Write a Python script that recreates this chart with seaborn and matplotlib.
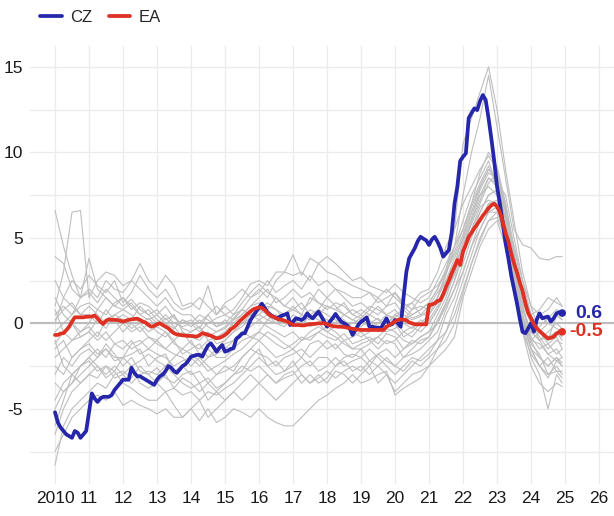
import numpy as np
import pandas as pd
import matplotlib
matplotlib.use('Agg')
import matplotlib.pyplot as plt
import seaborn as sns
from matplotlib.lines import Line2D

# =========================================
# Data (monthly, Jan 2010 - Dec 2024)
# =========================================
cz = [
    -5.2, -5.8, -6.1, -6.3, -6.5, -6.6, -6.7, -6.3, -6.4, -6.7, -6.5, -6.3,
    -5.2, -4.1, -4.4, -4.6, -4.4, -4.3, -4.3, -4.3, -4.2, -3.9, -3.7, -3.5,
    -3.3, -3.3, -3.3, -2.6, -2.9, -3.1, -3.1, -3.2, -3.3, -3.4, -3.5, -3.6,
    -3.3, -3.1, -3.0, -2.8, -2.5, -2.6, -2.8, -2.9, -2.7, -2.5, -2.4, -2.2,
    -1.95, -1.9, -1.85, -1.85, -1.95, -1.6, -1.3, -1.17, -1.4, -1.66, -1.45, -1.27,
    -1.66, -1.6, -1.5, -1.46, -0.9, -0.78, -0.6, -0.58, -0.2, 0.19, 0.45, 0.68,
    0.9, 1.15, 0.9, 0.65, 0.5, 0.4, 0.3, 0.35, 0.45, 0.5, 0.58, -0.1,
    0.1, 0.29, 0.25, 0.19, 0.3, 0.58, 0.4, 0.29, 0.5, 0.68, 0.4, 0.1,
    -0.2, 0.1, 0.3, 0.55, 0.3, 0.1, 0.0, -0.1, -0.3, -0.68, -0.4, -0.1,
    0.1, 0.2, 0.35, -0.2, -0.2, -0.25, -0.25, -0.29, 0.0, 0.29, -0.1, -0.05,
    0.19, 0.0, -0.2, 1.5, 3.0, 3.8, 4.1, 4.4, 4.8, 5.06, 4.95, 4.85,
    4.58, 4.9, 5.06, 4.77, 4.4, 3.9, 4.1, 4.29, 5.3, 7.0, 8.0, 9.5,
    9.74, 9.94, 12.0, 12.3, 12.57, 12.47, 13.0, 13.35, 13.06, 12.0, 10.8, 9.5,
    8.0, 7.0, 5.9, 4.7, 3.8, 2.8, 2.0, 1.2, 0.3, -0.5, -0.58, -0.3,
    0.0, -0.49, 0.2, 0.58, 0.29, 0.35, 0.39, 0.1, 0.3, 0.58, 0.65, 0.6,
]

ea = [
    -0.68, -0.68, -0.6, -0.58, -0.4, -0.2, 0.1, 0.35, 0.35, 0.35, 0.35, 0.38,
    0.39, 0.4, 0.45, 0.29, 0.1, -0.04, 0.15, 0.23, 0.2, 0.2, 0.19, 0.15,
    0.1, 0.15, 0.2, 0.23, 0.25, 0.27, 0.2, 0.1, 0.04, -0.1, -0.2, -0.15,
    -0.05, 0.0, -0.1, -0.2, -0.29, -0.45, -0.58, -0.65, -0.68, -0.7, -0.72, -0.74,
    -0.74, -0.76, -0.78, -0.7, -0.58, -0.62, -0.68, -0.72, -0.8, -0.88, -0.85, -0.78,
    -0.68, -0.55, -0.35, -0.25, -0.1, 0.1, 0.25, 0.4, 0.55, 0.7, 0.82, 0.88,
    0.93, 0.9, 0.78, 0.6, 0.45, 0.39, 0.3, 0.23, 0.2, 0.15, 0.1, 0.0,
    -0.1, -0.1, -0.1, -0.12, -0.12, -0.08, -0.05, -0.04, -0.03, 0.0, 0.0, 0.0,
    -0.05, -0.12, -0.16, -0.18, -0.2, -0.2, -0.22, -0.25, -0.29, -0.32, -0.35, -0.37,
    -0.39, -0.39, -0.39, -0.39, -0.39, -0.39, -0.39, -0.39, -0.39, -0.2, -0.1, 0.0,
    0.1, 0.2, 0.23, 0.2, 0.19, 0.05, 0.0, -0.06, -0.06, -0.06, -0.06, -0.06,
    1.07, 1.1, 1.17, 1.3, 1.36, 1.7, 2.14, 2.5, 2.92, 3.3, 3.7, 3.41,
    4.19, 4.6, 5.06, 5.3, 5.56, 5.8, 6.04, 6.3, 6.5, 6.73, 6.9, 7.0,
    6.82, 6.5, 5.94, 5.3, 4.8, 4.09, 3.5, 3.0, 2.4, 1.9, 1.17, 0.6,
    0.29, -0.05, -0.29, -0.45, -0.6, -0.75, -0.88, -0.85, -0.78, -0.6, -0.5, -0.5,
]

# other countries, quarterly (+ last month)
grey_months = list(range(0, 180, 3)) + [179]

grey_a = [-8.3, -6.0, -5.0, -4.5, -4.0, -3.5, -3.8, -3.0, -2.8, -3.2, -2.5, -3.0,
          -3.5, -3.0, -3.8, -3.2, -3.5, -4.0, -3.5, -3.0, -2.5, -2.8, -2.0, -1.5,
          -1.0, -1.5, -2.0, -1.8, -1.5, -2.0, -1.2, -1.0, -1.5, -1.2, -1.8, -2.0,
          -1.5, -2.2, -1.8, -1.5, -2.0, -1.5, -1.0, -1.2, -0.8, 0.0, 1.0, 2.0,
          3.5, 5.0, 6.5, 7.5, 7.8, 6.0, 3.0, 0.5, -1.5, -2.0, -2.5, -2.0, -2.3]
grey_b = [-7.5, -6.5, -5.5, -5.0, -4.5, -4.2, -4.5, -4.0, -4.8, -4.5, -4.8, -5.0,
          -5.3, -5.0, -5.5, -5.5, -5.0, -5.7, -5.0, -5.8, -5.5, -5.0, -5.2, -5.5,
          -5.0, -5.5, -5.8, -6.0, -6.0, -5.5, -5.0, -4.5, -4.2, -3.8, -3.5, -3.0,
          -3.5, -3.3, -3.0, -2.8, -4.2, -3.8, -3.5, -3.2, -2.5, -2.0, -1.5, -0.8,
          1.5, 3.0, 4.5, 5.5, 6.0, 4.5, 2.0, -0.5, -2.5, -3.5, -4.0, -3.5, -3.7]
grey_c = [-6.5, -5.0, -4.0, -3.5, -3.0, -3.2, -2.5, -2.8, -2.0, -2.5, -2.2, -1.8,
          -2.2, -2.5, -2.0, -1.5, -1.8, -2.2, -2.8, -2.5, -2.2, -1.8, -1.5, -1.0,
          -0.5, -0.8, -1.2, -1.5, -1.2, -0.8, -1.0, -0.5, -0.8, -1.0, -0.6, -1.2,
          -1.0, -0.8, -1.2, -0.6, -0.8, -1.5, -1.2, -0.8, -0.5, 0.5, 1.5, 3.0,
          4.5, 6.0, 7.5, 8.5, 8.0, 6.5, 3.5, 1.0, -0.8, -1.5, -1.2, -1.8, -1.5]
grey_d = [-3.0, -2.0, -2.5, -1.8, -1.5, -2.0, -1.2, -1.8, -2.5, -2.0, -2.8, -3.0,
          -2.6, -3.2, -3.5, -3.0, -2.8, -3.5, -3.2, -3.8, -3.5, -3.0, -2.5, -2.8,
          -2.5, -3.0, -3.5, -3.2, -3.0, -2.5, -2.2, -2.8, -2.5, -2.0, -2.5, -2.2,
          -2.0, -2.5, -1.8, -2.2, -2.5, -2.0, -1.8, -1.5, -1.0, -0.5, 0.8, 2.0,
          3.0, 4.5, 6.0, 7.0, 7.0, 5.5, 3.0, 0.0, -1.5, -2.5, -3.0, -2.5, -3.0]
grey_e = [1.5, 0.5, 0.0, -0.5, 0.0, 0.8, 0.5, 1.2, 1.5, 1.0, 0.5, 0.8,
          0.2, -0.2, 0.5, -0.5, -0.8, -1.0, -0.5, -1.2, -1.0, -0.5, 0.0, 0.5,
          0.8, 0.5, 0.2, 0.0, -0.2, 0.5, 0.2, 0.8, 0.5, 0.2, -0.2, 0.0,
          0.3, -0.3, 0.0, 0.5, 0.2, -0.5, -0.8, -0.2, 0.2, 1.0, 2.0, 3.5,
          5.0, 6.5, 7.5, 8.0, 7.5, 5.5, 3.0, 0.8, -0.5, -0.2, 0.3, 0.8, 0.5]
grey_f = [0.8, -0.5, -1.0, -0.8, -0.5, -1.0, -0.5, -1.2, -1.0, -1.5, -1.2, -0.8,
          -1.2, -1.5, -1.0, -1.8, -1.5, -1.2, -2.0, -1.8, -1.5, -1.0, -0.5, -0.2,
          0.2, -0.2, -0.5, -0.8, -0.5, -1.0, -0.8, -0.5, -0.2, -0.5, -1.0, -0.8,
          -0.5, -1.0, -0.8, -0.3, -0.5, -1.0, -1.2, -0.8, -0.5, 0.0, 1.2, 2.5,
          4.0, 5.5, 6.5, 7.5, 7.8, 6.2, 4.0, 1.5, 0.0, -0.8, -1.5, -1.0, -1.2]
grey_g = [-1.5, -1.0, -2.0, -1.5, -1.0, -0.5, -1.0, -0.5, 0.0, -0.5, -0.2, -0.8,
          -1.0, -0.5, -1.2, -1.5, -1.0, -1.8, -1.5, -2.0, -2.0, -1.5, -1.0, -0.8,
          -0.5, 0.2, 0.5, 0.0, 0.2, -0.2, 0.5, 0.2, 0.0, 0.5, 0.2, -0.3,
          -0.2, 0.2, -0.5, -0.2, 0.0, -0.8, -0.5, 0.0, 0.5, 1.2, 2.2, 3.2,
          4.5, 5.8, 7.0, 8.2, 8.8, 7.0, 4.5, 2.0, 0.5, -0.5, -1.0, -0.5, -1.0]
grey_h = [-4.5, -3.5, -3.0, -3.5, -3.0, -2.5, -3.2, -2.8, -3.5, -3.8, -4.2, -4.5,
          -4.5, -4.0, -4.8, -5.5, -5.0, -4.5, -5.5, -5.0, -4.5, -4.0, -3.5, -3.0,
          -3.5, -4.0, -4.5, -4.0, -3.5, -3.0, -3.5, -3.0, -3.5, -2.8, -3.0, -3.5,
          -3.0, -2.5, -3.5, -3.0, -3.5, -3.0, -2.5, -2.0, -1.5, -1.0, -0.5, 1.0,
          2.5, 4.0, 5.5, 6.5, 6.5, 5.0, 2.5, 0.0, -2.0, -3.0, -5.0, -3.0, -3.5]
grey_i = [-2.0, -1.5, -1.0, -0.5, -0.2, -0.8, 0.2, 0.5, 0.2, -0.3, 0.0, -0.5,
          -0.2, 0.3, -0.2, -0.8, -0.5, -0.2, -1.0, -0.8, -0.5, 0.0, 0.5, 1.0,
          1.2, 0.8, 1.5, 1.0, 1.5, 0.8, 1.2, 2.0, 1.5, 2.0, 1.5, 1.0,
          1.2, 0.8, 1.5, 1.0, 1.8, 1.0, 0.5, 0.8, 1.2, 2.0, 3.2, 4.5,
          5.5, 7.0, 8.8, 10.0, 9.2, 7.0, 4.0, 1.5, 0.2, -0.5, 0.0, 0.5, 0.2]
grey_j = [0.2, 0.8, 1.2, 0.5, 1.0, 0.5, 0.0, 0.2, -0.5, 0.0, -0.5, 0.0,
          -0.5, -0.8, -0.3, 0.2, 0.0, 0.5, 0.2, -0.2, 0.2, -0.2, 0.0, 0.3,
          0.5, 1.0, 0.8, 0.2, 0.0, 0.3, -0.2, 0.0, -0.5, -0.2, 0.0, -0.5,
          -0.8, -0.5, -0.2, -0.5, -0.3, 0.0, -0.3, 0.2, 0.0, 0.8, 1.8, 2.8,
          4.2, 5.5, 6.8, 7.2, 7.0, 5.8, 3.8, 1.8, 0.0, -1.0, -1.8, -1.5, -2.0]
grey_k = [-3.5, -4.0, -3.5, -2.5, -2.0, -1.5, -2.0, -1.2, -1.5, -1.0, -1.8, -1.5,
          -1.0, -1.5, -1.8, -2.0, -2.5, -2.0, -2.5, -3.0, -2.8, -2.5, -2.0, -1.5,
          -1.8, -2.0, -2.5, -2.0, -1.8, -1.5, -2.0, -1.5, -1.0, -1.5, -1.0, -1.5,
          -1.2, -1.0, -1.5, -1.0, -1.2, -2.0, -1.5, -1.0, -0.8, 0.2, 1.2, 2.5,
          4.0, 5.2, 6.0, 7.0, 7.2, 5.2, 2.8, 0.2, -1.0, -2.0, -2.5, -2.0, -2.5]
grey_l = [0.5, 1.0, 0.5, 1.5, 2.0, 1.5, 2.5, 2.0, 1.8, 2.5, 2.0, 1.5,
          1.0, 1.5, 0.8, 0.5, 0.5, 0.0, 0.5, 1.0, 0.5, 0.8, 1.5, 2.3,
          2.5, 2.2, 3.0, 3.0, 2.8, 3.0, 2.5, 3.5, 3.0, 2.8, 2.5, 2.2,
          2.0, 1.8, 1.5, 2.0, 1.5, 1.0, 1.2, 1.8, 2.0, 3.0, 4.5, 5.5,
          7.0, 8.0, 9.0, 9.8, 9.0, 6.5, 4.0, 1.2, 0.0, 0.5, 0.8, 1.5, 1.0]
grey_m = [-1.0, -2.5, -3.0, -2.5, -2.2, -2.8, -2.5, -3.2, -3.0, -2.5, -3.5, -3.8,
          -3.5, -4.0, -3.8, -4.2, -4.0, -4.5, -4.0, -4.2, -3.8, -3.5, -3.0, -2.5,
          -2.0, -2.5, -3.0, -2.8, -2.5, -2.0, -2.5, -2.0, -2.0, -2.5, -2.0, -1.8,
          -2.0, -1.5, -2.0, -2.5, -3.0, -2.5, -2.0, -2.2, -1.8, -1.0, 0.5, 1.5,
          3.0, 4.5, 5.5, 6.5, 6.8, 5.0, 2.2, -0.5, -1.8, -2.5, -2.0, -2.8, -2.8]
grey_n = [2.5, 1.5, 1.0, 0.5, 0.5, 0.0, 0.8, 0.2, 0.5, 0.2, 1.0, 0.5,
          0.0, 0.5, 0.0, -0.2, 0.0, -0.5, 0.0, 0.3, 0.5, 0.2, 0.8, 0.5,
          0.8, 1.2, 0.8, 0.5, 0.8, 0.5, 0.2, 0.5, 0.2, 0.0, 0.5, 0.2,
          0.0, 0.5, 0.2, 0.0, 0.5, 0.8, 0.3, 0.5, 1.0, 1.8, 2.5, 3.5,
          4.5, 6.0, 7.2, 8.5, 8.2, 7.5, 5.0, 2.5, 1.0, 0.5, 0.0, -0.3, -0.5]
grey_o = [-5.0, -4.0, -3.5, -3.0, -2.5, -2.0, -1.5, -2.0, -2.0, -1.2, -1.0, -1.5,
          -1.8, -2.0, -2.5, -2.2, -2.0, -2.5, -2.0, -1.5, -1.2, -1.0, -0.5, -0.8,
          -1.0, -0.5, -0.8, -1.2, -1.5, -1.0, -0.5, -0.2, -0.5, -0.8, -1.2, -1.5,
          -1.5, -1.2, -0.8, -1.2, -1.0, -0.5, -0.2, -0.5, 0.0, 0.8, 1.8, 3.0,
          4.8, 6.2, 7.8, 8.8, 8.5, 6.8, 4.2, 1.0, -1.0, -1.2, -1.8, -2.2, -2.0]
grey_p = [-2.5, -3.0, -2.0, -1.5, -1.2, -1.8, -1.5, -2.2, -2.0, -1.8, -1.5, -2.5,
          -2.0, -1.8, -2.8, -2.5, -3.0, -2.8, -3.5, -4.0, -3.5, -3.0, -2.8, -2.0,
          -1.5, -2.5, -2.2, -2.8, -2.2, -3.0, -3.5, -3.2, -2.8, -3.2, -2.8, -2.5,
          -2.8, -2.2, -2.5, -3.0, -4.0, -3.5, -3.0, -2.8, -2.5, -1.5, -0.5, 0.5,
          2.0, 3.5, 5.0, 6.0, 6.5, 5.5, 3.5, 0.5, -1.2, -1.8, -3.0, -2.8, -3.2]
grey_q = [-0.5, 0.0, 0.5, 1.0, 1.2, 0.8, 1.5, 1.0, 0.8, 1.2, 0.5, 0.2,
          0.5, 0.0, -0.3, 0.2, -0.2, 0.2, -0.2, -0.5, -0.2, 0.3, 0.8, 0.5,
          0.2, 0.5, 0.0, -0.2, 0.5, 0.2, 0.8, 0.5, 1.0, 0.8, 0.5, 0.8,
          0.5, 1.0, 0.8, 0.5, 0.8, 0.2, 0.5, 0.8, 1.2, 2.0, 3.0, 4.0,
          5.2, 6.8, 8.0, 9.0, 8.5, 6.0, 3.2, 0.8, -0.5, -1.0, -0.5, 0.0, -0.3]
grey_r = [-6.0, -4.5, -3.0, -2.5, -2.0, -2.5, -3.0, -2.5, -3.0, -3.5, -3.0, -2.8,
          -3.0, -2.5, -3.0, -3.5, -3.8, -3.5, -4.5, -4.0, -4.5, -4.0, -4.5, -4.0,
          -3.5, -3.0, -3.5, -3.0, -2.8, -3.5, -3.0, -3.5, -3.2, -2.5, -2.2, -2.8,
          -2.5, -3.0, -2.5, -2.0, -2.5, -2.8, -2.2, -2.5, -2.0, -1.5, -1.0, 0.0,
          1.8, 3.5, 4.8, 6.0, 6.2, 5.0, 2.8, 0.2, -1.5, -2.5, -3.2, -2.2, -2.5]
grey_s = [6.6, 4.5, 2.8, 1.5, 1.8, 1.2, 2.0, 1.5, 1.0, 1.4, 0.8, 0.5,
          0.8, 0.2, 0.5, -0.3, -0.5, -0.2, -0.8, -0.5, -0.3, 0.2, 0.5, 1.0,
          1.5, 2.0, 1.2, 1.5, 2.0, 1.5, 1.8, 1.2, 1.0, 0.8, 1.2, 0.5,
          0.3, 0.8, 0.5, 1.0, 1.2, 0.5, 0.2, 0.4, 0.8, 1.5, 2.5, 3.8,
          5.0, 6.5, 8.0, 9.0, 8.5, 6.5, 3.5, 1.0, -0.5, -1.0, -0.8, -0.5, -0.8]
grey_t = [1.0, 3.0, 6.5, 6.6, 1.5, 2.5, 3.0, 2.8, 2.2, 2.5, 3.5, 2.5,
          2.0, 2.8, 2.2, 1.0, 1.2, 0.8, 2.2, 0.5, 1.0, 0.5, 0.8, 1.5,
          2.0, 1.5, 2.5, 3.0, 4.0, 2.8, 3.8, 3.5, 3.9, 3.5, 3.0, 2.5,
          2.7, 2.2, 2.0, 1.8, 2.3, 1.8, 1.5, 1.2, 1.5, 2.5, 3.5, 4.5,
          6.0, 7.5, 8.5, 9.5, 8.0, 6.0, 4.5, 2.5, 0.5, 0.8, 1.5, 1.2, 1.0]
grey_u = [3.9, 3.5, 2.0, 1.5, 3.8, 2.0, 1.5, 1.0, 1.5, 0.8, 1.2, 1.0,
          0.5, 1.0, 0.3, 0.0, 0.2, -0.3, 0.5, -0.2, 0.0, 0.5, 1.2, 1.8,
          2.3, 1.8, 1.5, 1.0, 0.8, 1.2, 0.5, 0.8, 1.5, 1.0, 0.5, 0.2,
          0.5, 0.0, 0.3, -0.2, 0.5, 0.2, 0.8, 1.5, 1.8, 2.2, 3.0, 4.2,
          5.5, 7.0, 8.2, 9.2, 8.0, 5.5, 2.8, 0.5, -1.0, -0.5, -1.2, -0.8, -1.5]
grey_v = [-1.2, -0.5, 0.0, -0.8, -0.5, 0.2, -0.3, 0.5, 0.8, 0.5, 0.0, 0.3,
          -0.2, -0.5, -1.0, -0.5, -1.2, -1.5, -1.0, -1.5, -1.0, -0.5, -0.2, 0.3,
          0.5, 0.2, 0.0, 0.5, 1.0, 0.5, 1.5, 1.2, 0.8, 1.2, 1.0, 0.5,
          0.8, 0.5, 1.0, 0.5, 0.3, 0.8, 1.2, 0.5, 0.5, 1.5, 3.0, 5.5,
          10.5, 12.0, 13.5, 15.0, 12.5, 9.0, 6.0, 3.0, 1.0, -0.5, -1.0, 0.5, 0.2]
grey_w = [0.0, 1.5, 2.5, 2.0, 2.8, 2.2, 1.8, 2.5, 1.2, 1.8, 2.8, 2.0,
          1.5, 2.0, 1.2, 0.8, 1.0, 1.5, 1.0, 0.5, 1.2, 1.5, 2.0, 1.5,
          1.8, 2.5, 1.8, 2.2, 2.5, 2.0, 2.8, 2.2, 2.5, 2.0, 1.8, 1.5,
          1.5, 1.8, 1.2, 1.5, 1.8, 1.2, 0.8, 1.0, 0.8, 1.5, 2.8, 4.5,
          7.5, 10.0, 12.0, 14.5, 11.5, 8.5, 5.5, 4.6, 4.4, 3.8, 3.7, 3.9, 3.9]

others = [grey_a, grey_b, grey_c, grey_d, grey_e, grey_f, grey_g, grey_h,
          grey_i, grey_j, grey_k, grey_l, grey_m, grey_n, grey_o, grey_p,
          grey_q, grey_r, grey_s, grey_t, grey_u, grey_v, grey_w]

blue = '#2626AB'
red = '#DE3124'

# long tables for seaborn
rows = []
for n, s in enumerate(others):
    for m, v in zip(grey_months, s):
        rows.append((n, 2010 + m / 12, v))
grey_df = pd.DataFrame(rows, columns=['unit', 't', 'v'])

t = 2010 + np.arange(len(cz)) / 12
main_df = pd.DataFrame({
    't': np.concatenate([t, t]),
    'v': cz + ea,
    'series': ['CZ'] * len(cz) + ['EA'] * len(ea),
})
last_df = main_df.groupby('series').tail(1)

# =========================================
# Plot
# =========================================
sns.set_theme(style='white')
plt.rcParams['font.family'] = ['Liberation Sans Narrow', 'Liberation Sans', 'DejaVu Sans']
plt.rcParams['axes.unicode_minus'] = False

fig = plt.figure(figsize=(6.14, 5.16), dpi=100)
ax = fig.add_axes([30 / 614, 32 / 516, 584 / 614, 438 / 516])

ax.axhline(0, color='#BDBDBD', lw=1.5, zorder=1.5)

sns.lineplot(data=grey_df, x='t', y='v', units='unit', estimator=None,
             color='#BEBEBE', lw=0.8, ax=ax, legend=False)
sns.lineplot(data=main_df, x='t', y='v', hue='series',
             palette={'CZ': blue, 'EA': red}, lw=2.7, ax=ax, legend=False)
sns.scatterplot(data=last_df, x='t', y='v', hue='series',
                palette={'CZ': blue, 'EA': red}, s=30, linewidth=0,
                ax=ax, legend=False, zorder=5)

for _, r in last_df.iterrows():
    ax.text(2026.1, r['v'], f"{r['v']:.1f}", color=blue if r['series'] == 'CZ' else red,
            fontsize=14, fontweight='bold', ha='right', va='center')

ax.set_xlim(2009.265, 2026.44)
ax.set_ylim(-9.4, 16.22)
ax.set_xticks(range(2010, 2027))
ax.set_xticklabels(['2010'] + [str(y % 100) for y in range(2011, 2027)])
ax.set_yticks([-5, 0, 5, 10, 15])
ax.set_yticks([-7.5, -2.5, 2.5, 7.5, 12.5], minor=True)
ax.grid(True, which='major', color='#EBEBEB', lw=0.9)
ax.grid(True, which='minor', axis='y', color='#EBEBEB', lw=0.9)
ax.set_axisbelow(True)
for sp in ax.spines.values():
    sp.set_visible(False)
ax.tick_params(which='major', length=3, width=0.6, color='#555555',
               labelsize=12.5, labelcolor='#1a1a1a', pad=2)
ax.tick_params(which='minor', length=0)
ax.set_xlabel('')
ax.set_ylabel('')

handles = [Line2D([0], [0], color=blue, lw=2.7), Line2D([0], [0], color=red, lw=2.7)]
fig.legend(handles, ['CZ', 'EA'], loc='center left', bbox_to_anchor=(40 / 614, 1 - 17 / 516),
           ncol=2, frameon=False, fontsize=12, handlelength=1.3, handletextpad=0.5,
           columnspacing=1.0, borderpad=0, borderaxespad=0)

fig.savefig('out.png', dpi=100)
